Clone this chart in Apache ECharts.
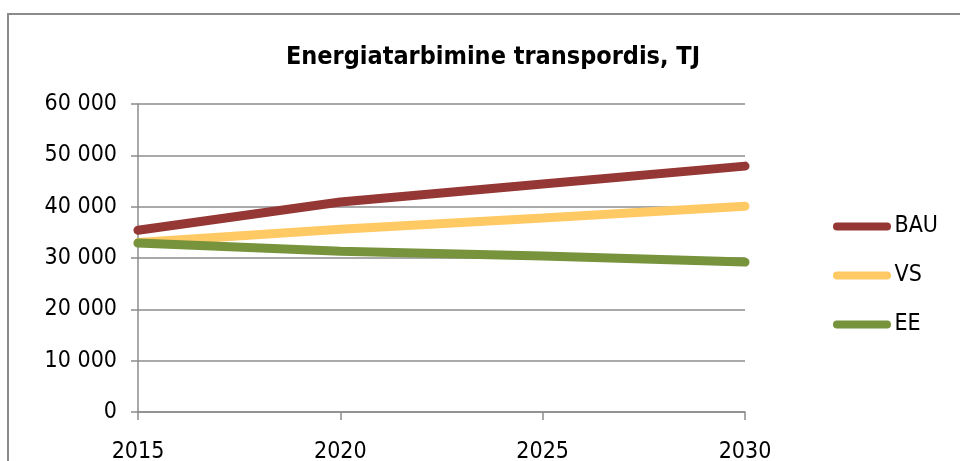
<!DOCTYPE html>
<html>
<head>
<meta charset="utf-8">
<script src="https://cdn.jsdelivr.net/npm/echarts@6/dist/echarts.min.js"></script>
<style>
  html, body { margin: 0; padding: 0; background: #fff; }
  #chart { width: 960px; height: 461px; }
</style>
</head>
<body>
<div id="chart"></div>
<script>
// aastad ja stsenaariumid
const years = [2015, 2020, 2025, 2030];
const bau = [35400, 40900, 44400, 47900];
const vs = [33000, 35600, 37800, 40100];
const ee = [32900, 31300, 30400, 29200];
const seriesNames = ['BAU', 'VS', 'EE'];
const colors = ['#953735', '#ffc964', '#77933c'];

const font = '"DejaVu Sans Condensed", "Liberation Sans Narrow", sans-serif';
const legendIcon = 'path://M4,0 L54,0 A4,4 0 0 1 54,8 L4,8 A4,4 0 0 1 4,0 Z';

function pairs(vals) {
  return years.map((y, i) => [y, vals[i]]);
}

const chart = echarts.init(document.getElementById('chart'));
chart.setOption({
  animation: false,
  textStyle: { fontFamily: font },
  title: {
    text: 'Energiatarbimine transpordis, TJ',
    left: 488,
    textAlign: 'center',
    top: 40,
    textStyle: { fontFamily: font, fontSize: 25, fontWeight: 'bold', color: '#000' }
  },
  graphic: [{
    type: 'rect',
    shape: { x: 8, y: 14, width: 1000, height: 500 },
    style: { fill: 'none', stroke: '#8a8a8a', lineWidth: 2 },
    silent: true
  }],
  grid: { left: 138, right: 215, top: 104, bottom: 49, outerBoundsMode: 'none' },
  legend: {
    orient: 'vertical',
    left: 833,
    top: 215,
    padding: 0,
    icon: legendIcon,
    itemWidth: 59,
    itemHeight: 8,
    itemGap: 26,
    data: seriesNames,
    textStyle: { fontFamily: font, fontSize: 23, color: '#000', padding: [0, 0, 0, -2] }
  },
  xAxis: {
    type: 'value',
    min: 2015,
    max: 2030,
    interval: 5,
    axisLine: { lineStyle: { color: '#8c8c8c', width: 1.5 } },
    axisTick: { inside: false, length: 8, lineStyle: { color: '#8c8c8c', width: 1.5 } },
    axisLabel: { fontFamily: font, fontSize: 23, color: '#000', margin: 29, formatter: v => String(v) },
    splitLine: { show: false }
  },
  yAxis: {
    type: 'value',
    min: 0,
    max: 60000,
    interval: 10000,
    axisLine: { show: true, lineStyle: { color: '#8c8c8c', width: 1.5 } },
    axisTick: { show: true, length: 7, lineStyle: { color: '#8c8c8c', width: 1.5 } },
    axisLabel: {
      fontFamily: font, fontSize: 23, color: '#000', margin: 21,
      formatter: v => String(v).replace(/\B(?=(\d{3})+(?!\d))/g, ' ')
    },
    splitLine: { lineStyle: { color: '#8c8c8c', width: 1.5 } }
  },
  series: [
    { name: 'BAU', type: 'line', data: pairs(bau), color: colors[0], symbol: 'none',
      lineStyle: { width: 9, cap: 'round' } },
    { name: 'VS', type: 'line', data: pairs(vs), color: colors[1], symbol: 'none',
      lineStyle: { width: 9, cap: 'round' } },
    { name: 'EE', type: 'line', data: pairs(ee), color: colors[2], symbol: 'none',
      lineStyle: { width: 9, cap: 'round' } }
  ]
});
</script>
</body>
</html>
